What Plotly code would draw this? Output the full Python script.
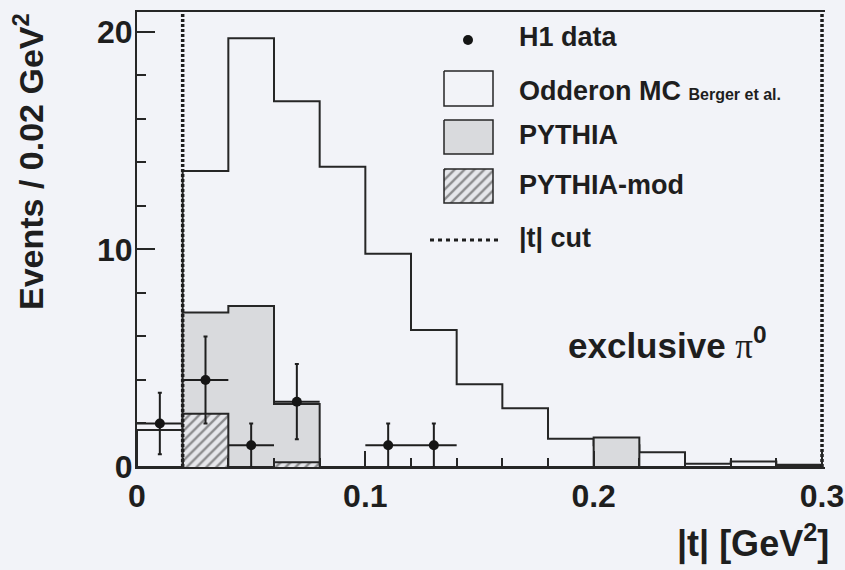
import plotly.graph_objects as go

# ---------------- data ----------------
bin_edges = [0.00, 0.02, 0.04, 0.06, 0.08, 0.10, 0.12, 0.14, 0.16,
             0.18, 0.20, 0.22, 0.24, 0.26, 0.28, 0.30]
odderon_mc = [1.7, 13.6, 19.7, 16.8, 13.8, 9.8, 6.3, 3.8, 2.7, 1.3,
              1.0, 0.68, 0.15, 0.25, 0.1]
pythia = [0, 7.1, 7.4, 2.9, 0, 0, 0, 0, 0, 0, 1.35, 0, 0, 0, 0.08]
pythia_mod = [0, 2.45, 0, 0.22, 0, 0, 0, 0, 0, 0, 0, 0, 0, 0, 0]

h1_t = [0.01, 0.03, 0.05, 0.07, 0.11, 0.13]
h1_events = [2, 4, 1, 3, 1, 1]
h1_err = [1.41, 2.0, 1.0, 1.73, 1.0, 1.0]
h1_terr = [0.01, 0.01, 0.01, 0.01, 0.01, 0.01]

t_cut = [0.02, 0.30]

x_ticks = [0, 0.1, 0.2, 0.3]
x_ticklabels = ["0", "0.1", "0.2", "0.3"]
y_ticks = [0, 10, 20]
y_ticklabels = ["0", "10", "20"]

# ---------------- style ----------------
W, H = 845, 570
L, R, T, B = 137, 20, 12, 103
BG = "#f2f3f8"
INK = "#262626"
GRAY = "#d9dadd"
HATCH_BG = "#e6e7eb"
FONT = "Liberation Sans, Arial, sans-serif"
X_MAX = 0.30131
Y_MAX = 20.905


def px(x):
    return (x - L) / (W - L - R)


def py(y):
    return (H - B - y) / (H - T - B)


def step(edges, vals):
    xs = [edges[0]] + list(edges[:-1]) + [edges[-1], edges[-1]]
    ys = [0] + list(vals) + [vals[-1], 0]
    return xs, ys


hatch = dict(shape="/", fgcolor="#2e2e2e", bgcolor=HATCH_BG, size=7, solidity=0.33)

fig = go.Figure()

# Odderon MC (outline only)
xs, ys = step(bin_edges, odderon_mc)
fig.add_trace(go.Scatter(x=xs, y=ys, mode="lines", line=dict(color=INK, width=2, shape="hv"),
                         showlegend=False, hoverinfo="skip"))
# PYTHIA (grey)
xs, ys = step(bin_edges, pythia)
fig.add_trace(go.Scatter(x=xs, y=ys, mode="lines", line=dict(color=INK, width=2, shape="hv"),
                         fill="toself", fillcolor=GRAY, showlegend=False, hoverinfo="skip"))
# PYTHIA-mod (hatched)
xs, ys = step(bin_edges, pythia_mod)
fig.add_trace(go.Scatter(x=xs, y=ys, mode="lines", line=dict(color=INK, width=2, shape="hv"),
                         fill="toself", fillcolor=HATCH_BG, fillpattern=hatch,
                         showlegend=False, hoverinfo="skip"))
# |t| cuts
for c in t_cut:
    fig.add_trace(go.Scatter(x=[c, c], y=[0, Y_MAX], mode="lines",
                             line=dict(color="#1e1e1e", width=3.5, dash="3px,2px"),
                             showlegend=False, hoverinfo="skip"))
# H1 data
fig.add_trace(go.Scatter(x=h1_t, y=h1_events, mode="markers",
                         marker=dict(color="#151515", size=10),
                         error_y=dict(type="data", array=h1_err, color="#1e1e1e", thickness=2, width=2),
                         error_x=dict(type="data", array=h1_terr, color="#1e1e1e", thickness=2, width=0),
                         showlegend=False, hoverinfo="skip", cliponaxis=False))

# ---------------- legend (overlay pixel axes) ----------------
def box(x0, y0, x1, y1, **kw):
    fig.add_trace(go.Scatter(x=[x0, x1, x1, x0, x0], y=[y0, y0, y1, y1, y0], mode="lines",
                             xaxis="x2", yaxis="y2", fill="toself",
                             line=dict(color=INK, width=1.5), showlegend=False,
                             hoverinfo="skip", **kw))

fig.add_trace(go.Scatter(x=[468], y=[40], mode="markers", xaxis="x2", yaxis="y2",
                         marker=dict(color="#151515", size=10), showlegend=False, hoverinfo="skip"))
box(444, 71, 493, 106, fillcolor="rgba(0,0,0,0)")
box(444, 120, 493, 154, fillcolor=GRAY)
box(444, 169, 493, 203, fillcolor=HATCH_BG, fillpattern=hatch)
fig.add_trace(go.Scatter(x=[430, 502], y=[240, 240], mode="lines", xaxis="x2", yaxis="y2",
                         line=dict(color="#1e1e1e", width=3, dash="4px,4px"),
                         showlegend=False, hoverinfo="skip"))

ann = []
leg_font = dict(family=FONT, size=27, color="#1e1e1e", weight="bold")
for txt, base in [("H1 data", 47),
                  ("Odderon MC <span style='font-size:16px'>Berger et al.</span>", 101),
                  ("PYTHIA", 145), ("PYTHIA-mod", 195), ("|t| cut", 248)]:
    ann.append(dict(text=txt, x=px(518), y=py(base + 0.212 * 27), xref="paper", yref="paper",
                    xanchor="left", yanchor="bottom", showarrow=False, font=leg_font, borderpad=0))

ann.append(dict(text="exclusive <span style='font-family:Liberation Serif;font-weight:normal'>π</span><sup>0</sup>",
                x=px(567), y=py(360 + 0.212 * 35), xref="paper", yref="paper",
                xanchor="left", yanchor="bottom", showarrow=False, borderpad=0,
                font=dict(family=FONT, size=35, color="#1e1e1e", weight="bold")))
ann.append(dict(text="|t| [GeV<sup>2</sup>]", x=px(830), y=py(558 + 0.212 * 36),
                xref="paper", yref="paper", xanchor="right", yanchor="bottom",
                showarrow=False, borderpad=0,
                font=dict(family=FONT, size=36, color="#1e1e1e", weight="bold")))
ann.append(dict(text="Events / 0.02 GeV<sup>2</sup>", x=px(28.5), y=py(12), textangle=-90,
                xref="paper", yref="paper", xanchor="center", yanchor="top",
                showarrow=False, borderpad=0,
                font=dict(family=FONT, size=34, color="#1e1e1e", weight="bold")))

tickfont = dict(family=FONT, size=32, color="#1e1e1e", weight="bold")
fig.update_layout(
    width=W, height=H, margin=dict(l=L, r=R, t=T, b=B, pad=0, autoexpand=False),
    paper_bgcolor=BG, plot_bgcolor=BG, showlegend=False,
    annotations=ann,
    xaxis=dict(range=[0, X_MAX], tickvals=x_ticks, ticktext=x_ticklabels, automargin=False,
               ticks="inside", ticklen=16, tickwidth=1.5, tickcolor=INK,
               minor=dict(dtick=0.02, tick0=0, ticks="inside", ticklen=9, tickwidth=1.5, tickcolor=INK),
               showline=True, linecolor=INK, linewidth=2, mirror=True,
               showgrid=False, zeroline=False, tickfont=tickfont),
    yaxis=dict(range=[0, Y_MAX], tickvals=y_ticks, ticktext=y_ticklabels, automargin=False,
               ticks="inside", ticklen=18, tickwidth=1.5, tickcolor=INK, ticklabelstandoff=-4,
               minor=dict(dtick=2, tick0=0, ticks="inside", ticklen=9, tickwidth=1.5, tickcolor=INK),
               showline=True, linecolor=INK, linewidth=2, mirror=False,
               showgrid=False, zeroline=False, tickfont=tickfont),
    xaxis2=dict(overlaying="x", anchor="y2", range=[L, W - R], visible=False),
    yaxis2=dict(overlaying="y", anchor="x2", range=[H - B, T], visible=False),
)

fig.write_html("out.html")
